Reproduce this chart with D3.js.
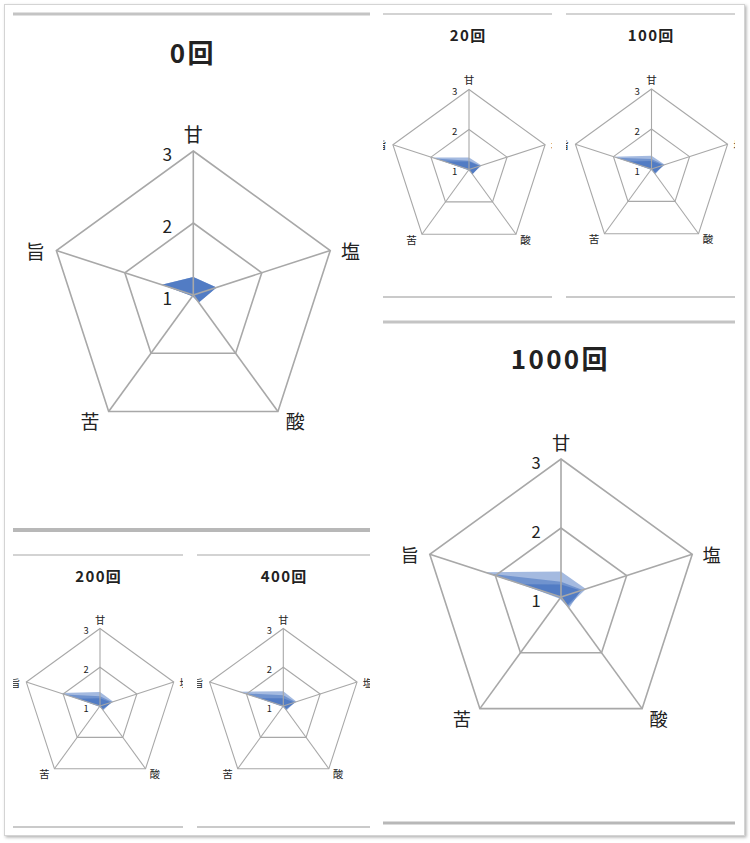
<!DOCTYPE html>
<html>
<head>
<meta charset="utf-8">
<script src="https://cdn.jsdelivr.net/npm/d3@7"></script>
<style>
  body { margin: 0; background: #fff; }
  text { font-family: "Noto Sans CJK JP", "Noto Sans", sans-serif; fill: #222; }
</style>
</head>
<body>
<svg id="chart" width="750" height="843"></svg>
<script>
// Taste axes, clockwise from the top
const axes = ["甘", "塩", "酸", "苦", "旨"];
const levels = [1, 2, 3];
const titles = ["0回", "20回", "100回", "200回", "400回", "1000回"];

// Three overlaid series per round, values in axes order
const round0    = [[1.25, 1.34, 1.13, 1.02, 1.46], [1.25, 1.34, 1.13, 1.02, 1.46], [1.25, 1.34, 1.13, 1.02, 1.46]];
const round20   = [[1.30, 1.33, 1.14, 1.02, 1.97], [1.22, 1.30, 1.15, 1.00, 1.90], [1.20, 1.28, 1.15, 1.02, 1.65]];
const round100  = [[1.33, 1.35, 1.13, 1.02, 2.00], [1.25, 1.33, 1.14, 1.00, 1.92], [1.20, 1.30, 1.16, 1.02, 1.60]];
const round200  = [[1.36, 1.36, 1.10, 1.02, 2.08], [1.25, 1.33, 1.12, 1.00, 1.95], [1.20, 1.30, 1.14, 1.02, 1.60]];
const round400  = [[1.38, 1.36, 1.10, 1.02, 2.20], [1.28, 1.33, 1.12, 1.00, 2.05], [1.20, 1.30, 1.14, 1.02, 1.65]];
const round1000 = [[1.37, 1.38, 1.17, 1.02, 2.16], [1.22, 1.33, 1.15, 1.00, 2.10], [1.18, 1.30, 1.20, 1.03, 1.60]];
const rounds = [round0, round20, round100, round200, round400, round1000];

// Panel layout (collage cells)
const panels = [
  {x0: 13,  x1: 370, top: 14,  bottom: 530, topW: 3,   botW: 4,   titleY: 51,  titleSize: 26, cx: 193.3, cy: 295,   R: 144},
  {x0: 383, x1: 552, top: 14,  bottom: 297, topW: 1.6, botW: 1.6, titleY: 34,  titleSize: 15, cx: 469,   cy: 169.5, R: 80},
  {x0: 566, x1: 735, top: 14,  bottom: 297, topW: 1.6, botW: 1.6, titleY: 34,  titleSize: 15, cx: 651.5, cy: 169,   R: 80},
  {x0: 13,  x1: 183, top: 555, bottom: 827, topW: 1.6, botW: 1.6, titleY: 575, titleSize: 15, cx: 100,   cy: 706,   R: 77.5},
  {x0: 197, x1: 370, top: 555, bottom: 827, topW: 1.6, botW: 1.6, titleY: 575, titleSize: 15, cx: 283.3, cy: 706,   R: 77.5},
  {x0: 383, x1: 735, top: 322, bottom: 823, topW: 3,   botW: 3,   titleY: 357, titleSize: 26, cx: 561,   cy: 597,   R: 138}
];

// label offsets relative to each vertex, as fractions of R
const labelOffsets = [[0, -0.12], [0.14, 0], [0.12, 0.065], [-0.13, 0.065], [-0.145, 0]];

const svg = d3.select('#chart');

// Outer photo frame with a soft shadow
const defs = svg.append('defs');
const shadow = defs.append('filter').attr('id', 'shadow')
    .attr('x', '-5%').attr('y', '-5%').attr('width', '110%').attr('height', '110%');
shadow.append('feDropShadow')
    .attr('dx', 1.5).attr('dy', 1.5).attr('stdDeviation', 1.5)
    .attr('flood-color', '#000').attr('flood-opacity', 0.3);

svg.append('rect')
    .attr('x', 4.5).attr('y', 4.5)
    .attr('width', 740).attr('height', 831)
    .attr('fill', '#fff')
    .attr('stroke', '#d4d4d4')
    .attr('filter', 'url(#shadow)');

const angle = d3.scaleLinear().domain([0, axes.length]).range([0, 2 * Math.PI]);

panels.forEach((p, k) => {
    const g = svg.append('g');

    defs.append('clipPath').attr('id', `clip${k}`)
        .append('rect')
        .attr('x', p.x0).attr('y', p.top)
        .attr('width', p.x1 - p.x0).attr('height', p.bottom - p.top);

    // panel rules
    g.append('line')
        .attr('x1', p.x0).attr('x2', p.x1).attr('y1', p.top).attr('y2', p.top)
        .attr('stroke', '#c4c4c4').attr('stroke-width', p.topW);
    g.append('line')
        .attr('x1', p.x0).attr('x2', p.x1).attr('y1', p.bottom).attr('y2', p.bottom)
        .attr('stroke', '#b8b8b8').attr('stroke-width', p.botW);

    // title
    g.append('text')
        .attr('x', (p.x0 + p.x1) / 2 + p.titleSize * 0.05).attr('y', p.titleY)
        .attr('text-anchor', 'middle').attr('dominant-baseline', 'central')
        .attr('font-size', p.titleSize).attr('font-weight', 'bold')
        .attr('letter-spacing', p.titleSize * 0.09)
        .text(titles[k]);

    // clip in page coordinates, then move to the radar centre
    const plot = g.append('g')
        .attr('clip-path', `url(#clip${k})`)
        .append('g')
        .attr('transform', `translate(${p.cx},${p.cy})`);

    const r = d3.scaleLinear().domain([1, 3]).range([0, p.R]);
    const line = d3.lineRadial()
        .angle((d, i) => angle(i))
        .radius(d => r(d))
        .curve(d3.curveLinearClosed);

    const sw = p.R > 100 ? 1.6 : 1.1;

    // series fills
    plot.selectAll('.series')
        .data(rounds[k])
        .enter().append('path')
        .attr('class', 'series')
        .attr('d', d => line(d))
        .attr('fill', '#2c60b8')
        .attr('fill-opacity', 0.43)
        .attr('stroke', 'none');

    // grid pentagons
    plot.selectAll('.grid')
        .data(levels.slice(1))
        .enter().append('path')
        .attr('class', 'grid')
        .attr('d', v => line(axes.map(() => v)))
        .attr('fill', 'none')
        .attr('stroke', '#a8a8a8')
        .attr('stroke-width', sw);

    // spokes
    plot.selectAll('.spoke')
        .data(axes)
        .enter().append('line')
        .attr('class', 'spoke')
        .attr('x1', 0).attr('y1', 0)
        .attr('x2', (d, i) => r(3) * Math.sin(angle(i)))
        .attr('y2', (d, i) => -r(3) * Math.cos(angle(i)))
        .attr('stroke', '#a8a8a8')
        .attr('stroke-width', sw);

    const fs = p.R * 0.12;

    // tick labels along the top axis
    plot.selectAll('.tick')
        .data(levels)
        .enter().append('text')
        .attr('class', 'tick')
        .attr('x', -p.R * 0.18)
        .attr('y', v => -r(v) + p.R * 0.02)
        .attr('text-anchor', 'middle').attr('dominant-baseline', 'central')
        .attr('font-size', fs)
        .text(v => v);

    // axis labels
    plot.selectAll('.axis-label')
        .data(axes)
        .enter().append('text')
        .attr('class', 'axis-label')
        .attr('x', (d, i) => r(3) * Math.sin(angle(i)) + labelOffsets[i][0] * p.R)
        .attr('y', (d, i) => -r(3) * Math.cos(angle(i)) + labelOffsets[i][1] * p.R)
        .attr('text-anchor', 'middle').attr('dominant-baseline', 'central')
        .attr('font-size', fs * 1.1)
        .text(d => d);
});
</script>
</body>
</html>
